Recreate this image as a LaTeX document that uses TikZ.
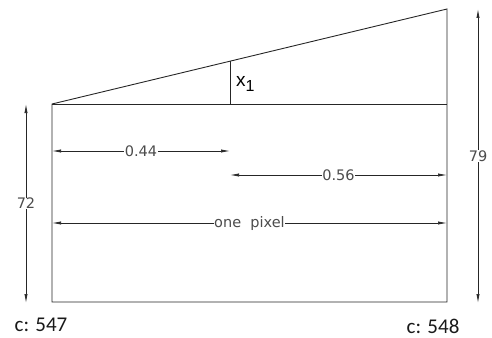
\documentclass[tikz,border=0pt]{standalone}
\usepackage{fontspec}
\setmainfont{Carlito}
\newfontfamily\dimfont{DejaVu Sans}
\usetikzlibrary{arrows.meta}
\begin{document}
\begin{tikzpicture}[x=1pt,y=-1pt,
  edge/.style={line width=0.9pt,black!85},
  dimline/.style={line width=0.7pt,black!85,{Latex[length=9pt,width=3.2pt]}-{Latex[length=9pt,width=3.2pt]}},
  dimlabel/.style={font=\dimfont\fontsize{14.5}{14.5}\selectfont, text=black!70, fill=white, inner sep=0.5pt},
  caplabel/.style={font=\fontsize{21}{21}\selectfont, text=black!90, inner sep=0pt}]
\useasboundingbox (0,0) rectangle (492,337);
% outline
\coordinate (tl) at (52,104);
\coordinate (tr) at (447,104);
\coordinate (br) at (447,302);
\coordinate (bl) at (52,302);
\coordinate (top) at (447,9);
\coordinate (xb) at (230,104);
\coordinate (xt) at (230,61.2);
\draw[edge] (tl) -- (top) -- (br) -- (bl) -- cycle;
\draw[edge] (tl) -- (tr);
\draw[edge] (xb) -- (xt);
\node[font=\fontspec{Liberation Sans}\fontsize{19}{19}\selectfont, anchor=west, inner sep=0pt] (x1) at (236,84) {x\textsubscript{\fontsize{16}{16}\selectfont 1}};
% dimension lines
\coordinate (a44l) at (52,151); \coordinate (a44r) at (230,151);
\draw[dimline] (a44l) -- (a44r) node[dimlabel, pos=0.5] (l44) {0.44};
\coordinate (a56l) at (230,175); \coordinate (a56r) at (447,175);
\draw[dimline] (a56l) -- (a56r) node[dimlabel, pos=0.5] (l56) {0.56};
\coordinate (apl) at (52,223); \coordinate (apr) at (447,223);
\draw[dimline] (apl) -- (apr) node[dimlabel, pos=0.5] (lpx) {one\ \ pixel};
\coordinate (v72t) at (26,104); \coordinate (v72b) at (26,303);
\draw[dimline] (v72t) -- (v72b) node[dimlabel, pos=0.5] (l72) {72};
\coordinate (v79t) at (478,9); \coordinate (v79b) at (478,303);
\draw[dimline] (v79t) -- (v79b) node[dimlabel, pos=0.5] (l79) {79};
% captions
\node[caplabel] (c547) at (41,325) {c: 547};
\node[caplabel] (c548) at (433,326) {c: 548};
\end{tikzpicture}
\end{document}
